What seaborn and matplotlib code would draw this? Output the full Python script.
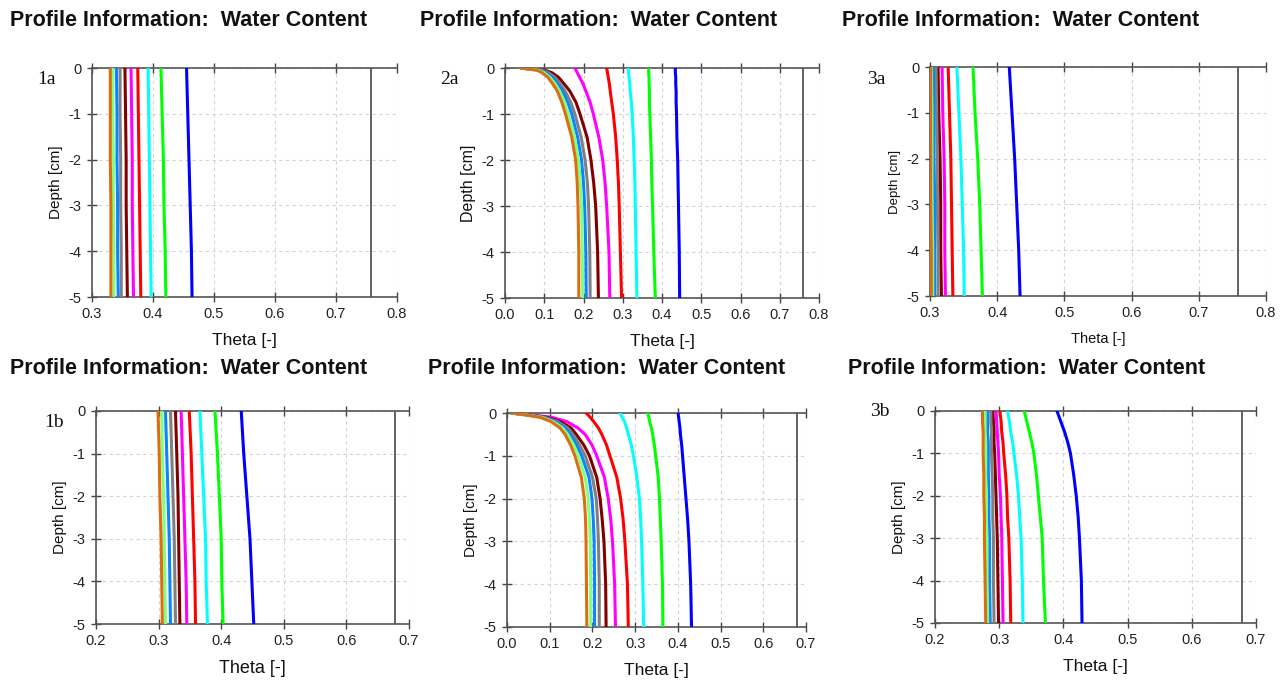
import numpy as np
import pandas as pd
import matplotlib
matplotlib.use("Agg")
import matplotlib.pyplot as plt
import seaborn as sns

# Profile times, plotted from the wettest (blue) to the driest (orange)
profiles = ["P1", "P2", "P3", "P4", "P5", "P6", "P7", "P8", "P9", "P10"]
profile_colors = ["#0000FF", "#00FF00", "#00FFFF", "#FF0000", "#FF00FF",
                  "#800000", "#808080", "#0A84FF", "#80FF80", "#DD6E0F"]

# Depth grids [cm]
depth_lin = [0, -1, -2, -3, -4, -5]
depth_fine = [0, -0.05, -0.1, -0.2, -0.35, -0.5, -0.75, -1, -1.5, -2, -2.5, -3, -4, -5]
depth_3b = [0, -0.25, -0.5, -0.75, -1, -1.5, -2, -2.5, -3, -4, -5]

# Water content profiles, one row per profile time
theta_1a = [
    [0.455, 0.457, 0.459, 0.461, 0.463, 0.464],
    [0.413, 0.415, 0.417, 0.418, 0.420, 0.421],
    [0.392, 0.393, 0.394, 0.395, 0.396, 0.397],
    [0.375, 0.376, 0.377, 0.378, 0.379, 0.380],
    [0.364, 0.365, 0.366, 0.366, 0.367, 0.368],
    [0.354, 0.355, 0.356, 0.356, 0.357, 0.358],
    [0.346, 0.346, 0.347, 0.347, 0.348, 0.348],
    [0.340, 0.341, 0.341, 0.342, 0.342, 0.343],
    [0.334, 0.334, 0.335, 0.335, 0.336, 0.336],
    [0.330, 0.330, 0.330, 0.331, 0.331, 0.331],
]
theta_2a = [
    [0.434, 0.434, 0.434, 0.435, 0.435, 0.436, 0.436, 0.437, 0.438, 0.440, 0.441, 0.442, 0.444, 0.445],
    [0.366, 0.366, 0.366, 0.367, 0.367, 0.368, 0.368, 0.369, 0.371, 0.373, 0.374, 0.376, 0.379, 0.383],
    [0.314, 0.314, 0.315, 0.316, 0.318, 0.319, 0.322, 0.324, 0.327, 0.329, 0.331, 0.332, 0.334, 0.336],
    [0.259, 0.260, 0.261, 0.263, 0.266, 0.268, 0.272, 0.276, 0.282, 0.286, 0.289, 0.291, 0.294, 0.297],
    [0.178, 0.181, 0.184, 0.190, 0.199, 0.206, 0.217, 0.225, 0.239, 0.249, 0.255, 0.259, 0.265, 0.267],
    [0.040, 0.102, 0.119, 0.136, 0.151, 0.165, 0.181, 0.191, 0.209, 0.219, 0.226, 0.231, 0.236, 0.238],
    [0.040, 0.095, 0.110, 0.127, 0.141, 0.153, 0.168, 0.178, 0.194, 0.204, 0.210, 0.213, 0.216, 0.217],
    [0.040, 0.090, 0.104, 0.120, 0.134, 0.146, 0.160, 0.170, 0.185, 0.195, 0.200, 0.203, 0.206, 0.207],
    [0.040, 0.086, 0.099, 0.114, 0.128, 0.139, 0.152, 0.161, 0.177, 0.187, 0.192, 0.195, 0.197, 0.198],
    [0.040, 0.082, 0.094, 0.109, 0.122, 0.133, 0.145, 0.154, 0.170, 0.180, 0.184, 0.186, 0.188, 0.188],
]
theta_3a = [
    [0.418, 0.422, 0.426, 0.429, 0.432, 0.434],
    [0.364, 0.367, 0.371, 0.374, 0.376, 0.378],
    [0.340, 0.343, 0.346, 0.348, 0.350, 0.351],
    [0.327, 0.329, 0.331, 0.332, 0.333, 0.334],
    [0.318, 0.319, 0.321, 0.322, 0.322, 0.323],
    [0.312, 0.313, 0.315, 0.316, 0.316, 0.317],
    [0.309, 0.310, 0.311, 0.311, 0.312, 0.312],
    [0.305, 0.306, 0.306, 0.307, 0.307, 0.307],
    [0.302, 0.303, 0.303, 0.303, 0.304, 0.304],
    [0.301, 0.301, 0.301, 0.301, 0.302, 0.302],
]
theta_1b = [
    [0.432, 0.436, 0.441, 0.446, 0.449, 0.452],
    [0.390, 0.394, 0.397, 0.400, 0.401, 0.403],
    [0.366, 0.369, 0.372, 0.375, 0.376, 0.378],
    [0.349, 0.352, 0.354, 0.356, 0.358, 0.359],
    [0.336, 0.338, 0.340, 0.342, 0.344, 0.345],
    [0.327, 0.329, 0.331, 0.332, 0.333, 0.334],
    [0.319, 0.321, 0.323, 0.325, 0.326, 0.327],
    [0.311, 0.313, 0.315, 0.317, 0.318, 0.319],
    [0.305, 0.306, 0.308, 0.309, 0.310, 0.311],
    [0.299, 0.301, 0.302, 0.304, 0.305, 0.306],
]
theta_2b = [
    [0.401, 0.401, 0.402, 0.403, 0.405, 0.406, 0.409, 0.411, 0.415, 0.419, 0.423, 0.426, 0.430, 0.432],
    [0.330, 0.331, 0.332, 0.334, 0.338, 0.341, 0.345, 0.348, 0.354, 0.357, 0.359, 0.361, 0.364, 0.365],
    [0.265, 0.267, 0.270, 0.275, 0.280, 0.284, 0.291, 0.296, 0.304, 0.310, 0.313, 0.315, 0.318, 0.320],
    [0.185, 0.190, 0.195, 0.203, 0.214, 0.222, 0.233, 0.241, 0.257, 0.266, 0.272, 0.276, 0.282, 0.284],
    [0.010, 0.062, 0.105, 0.140, 0.166, 0.183, 0.199, 0.210, 0.228, 0.237, 0.243, 0.247, 0.252, 0.254],
    [0.010, 0.055, 0.093, 0.125, 0.150, 0.162, 0.180, 0.193, 0.210, 0.218, 0.223, 0.227, 0.231, 0.232],
    [0.010, 0.052, 0.088, 0.118, 0.142, 0.154, 0.170, 0.183, 0.200, 0.209, 0.212, 0.214, 0.216, 0.216],
    [0.010, 0.050, 0.084, 0.113, 0.136, 0.148, 0.163, 0.175, 0.192, 0.199, 0.202, 0.204, 0.205, 0.205],
    [0.010, 0.048, 0.081, 0.108, 0.130, 0.142, 0.156, 0.167, 0.183, 0.190, 0.193, 0.195, 0.196, 0.196],
    [0.010, 0.046, 0.077, 0.103, 0.124, 0.136, 0.149, 0.159, 0.174, 0.181, 0.184, 0.185, 0.186, 0.187],
]
theta_3b = [
    [0.390, 0.396, 0.402, 0.407, 0.411, 0.416, 0.420, 0.423, 0.425, 0.428, 0.429],
    [0.339, 0.343, 0.347, 0.351, 0.354, 0.358, 0.361, 0.364, 0.367, 0.369, 0.372],
    [0.313, 0.316, 0.318, 0.321, 0.323, 0.327, 0.330, 0.332, 0.334, 0.336, 0.337],
    [0.301, 0.303, 0.304, 0.306, 0.307, 0.310, 0.312, 0.313, 0.315, 0.317, 0.318],
    [0.295, 0.296, 0.297, 0.298, 0.299, 0.300, 0.302, 0.303, 0.304, 0.305, 0.306],
    [0.290, 0.291, 0.292, 0.292, 0.293, 0.294, 0.295, 0.296, 0.297, 0.298, 0.299],
    [0.287, 0.287, 0.288, 0.288, 0.288, 0.289, 0.290, 0.290, 0.291, 0.291, 0.292],
    [0.282, 0.282, 0.282, 0.283, 0.283, 0.283, 0.284, 0.284, 0.285, 0.285, 0.286],
    [0.278, 0.278, 0.278, 0.279, 0.279, 0.279, 0.280, 0.280, 0.281, 0.281, 0.282],
    [0.274, 0.274, 0.275, 0.275, 0.275, 0.276, 0.276, 0.277, 0.277, 0.278, 0.279],
]

x_ticks_top = [0.3, 0.4, 0.5, 0.6, 0.7, 0.8]
x_ticks_top_full = [0.0, 0.1, 0.2, 0.3, 0.4, 0.5, 0.6, 0.7, 0.8]
x_ticks_bot = [0.2, 0.3, 0.4, 0.5, 0.6, 0.7]
x_ticks_bot_full = [0.0, 0.1, 0.2, 0.3, 0.4, 0.5, 0.6, 0.7]
y_ticks = [0, -1, -2, -3, -4, -5]
saturation_top = 0.758
saturation_bot = 0.678

TITLE = "Profile Information:  Water Content"

W, H = 1288, 681

sns.set_theme(style="white")
plt.rcParams["font.family"] = ["Liberation Sans", "DejaVu Sans"]

fig = plt.figure(figsize=(W / 100, H / 100), dpi=100)


def frame(left, top, right, bottom):
    return [left / W, 1 - bottom / H, (right - left) / W, (bottom - top) / H]


panels = [
    dict(rect=(92, 68, 397, 297), depth=depth_lin, theta=theta_1a, xticks=x_ticks_top,
         sat=saturation_top, tag="1a", tag_xy=(37, 80), title_xy=(10, 21), xl=12.5,
         ylab=11),
    dict(rect=(505, 68, 819, 298), depth=depth_fine, theta=theta_2a, xticks=x_ticks_top_full,
         sat=saturation_top, tag="2a", tag_xy=(440, 80), title_xy=(420, 21), xl=12.5,
         ylab=11.5),
    dict(rect=(930, 67, 1266, 296), depth=depth_lin, theta=theta_3a, xticks=x_ticks_top,
         sat=saturation_top, tag="3a", tag_xy=(867, 80), title_xy=(842, 21), xl=10.5,
         ylab=9.5),
    dict(rect=(96, 411, 409, 624), depth=depth_lin, theta=theta_1b, xticks=x_ticks_bot,
         sat=saturation_bot, tag="1b", tag_xy=(44, 422), title_xy=(10, 368), xl=13,
         ylab=11),
    dict(rect=(507, 413, 806, 627), depth=depth_fine, theta=theta_2b, xticks=x_ticks_bot_full,
         sat=saturation_bot, tag=None, tag_xy=None, title_xy=(428, 369), xl=12.5,
         ylab=11),
    dict(rect=(935, 411, 1256, 623), depth=depth_3b, theta=theta_3b, xticks=x_ticks_bot,
         sat=saturation_bot, tag="3b", tag_xy=(870, 411), title_xy=(848, 368), xl=12.5,
         ylab=11),
]

for p in panels:
    ax = fig.add_axes(frame(*p["rect"]))
    rows = []
    for name, vals in zip(profiles, p["theta"]):
        for d, t in zip(p["depth"], vals):
            rows.append({"profile": name, "depth": d, "theta": t})
    df = pd.DataFrame(rows)
    sns.lineplot(data=df, x="theta", y="depth", hue="profile", hue_order=profiles,
                 palette=profile_colors, sort=False, estimator=None, legend=False,
                 linewidth=2.2, ax=ax, zorder=3)
    for line in ax.get_lines():
        line.set_solid_joinstyle("round")

    ax.axvline(p["sat"], color="#555555", linewidth=1.3, zorder=2)

    ax.set_xlim(p["xticks"][0], p["xticks"][-1])
    ax.set_ylim(-5, 0)
    ax.set_xticks(p["xticks"])
    ax.set_xticklabels([f"{v:.1f}" for v in p["xticks"]], fontsize=10.5, color="#222222")
    ax.set_yticks(y_ticks)
    ax.set_yticklabels([str(v) for v in y_ticks], fontsize=10.5, color="#222222")

    ax.grid(True, color="#d4d4d4", linestyle=(0, (3, 3)), linewidth=0.8, zorder=0)
    ax.set_axisbelow(True)

    for side in ("left", "top", "bottom"):
        ax.spines[side].set_visible(True)
        ax.spines[side].set_color("#555555")
        ax.spines[side].set_linewidth(1.2)
    ax.spines["right"].set_visible(False)

    ax.tick_params(axis="both", which="major", direction="inout", length=7, width=1.0,
                   color="#444444", top=True, bottom=True, left=True, right=False,
                   labeltop=False, pad=4)

    ax.set_xlabel("Theta [-]", fontsize=p["xl"], color="#111111", labelpad=8)
    ax.set_ylabel("Depth [cm]", fontsize=p["ylab"], color="#111111", labelpad=4)

    tx, ty = p["title_xy"]
    fig.text(tx / W, 1 - ty / H, TITLE, fontsize=15.5, fontweight="bold",
             ha="left", va="center", color="#111111")
    if p["tag"]:
        lx, ly = p["tag_xy"]
        fig.text(lx / W, 1 - ly / H, p["tag"], fontsize=14, family="Liberation Serif",
                 ha="left", va="center", color="#111111")

fig.savefig("out.png", dpi=100, facecolor="white")
